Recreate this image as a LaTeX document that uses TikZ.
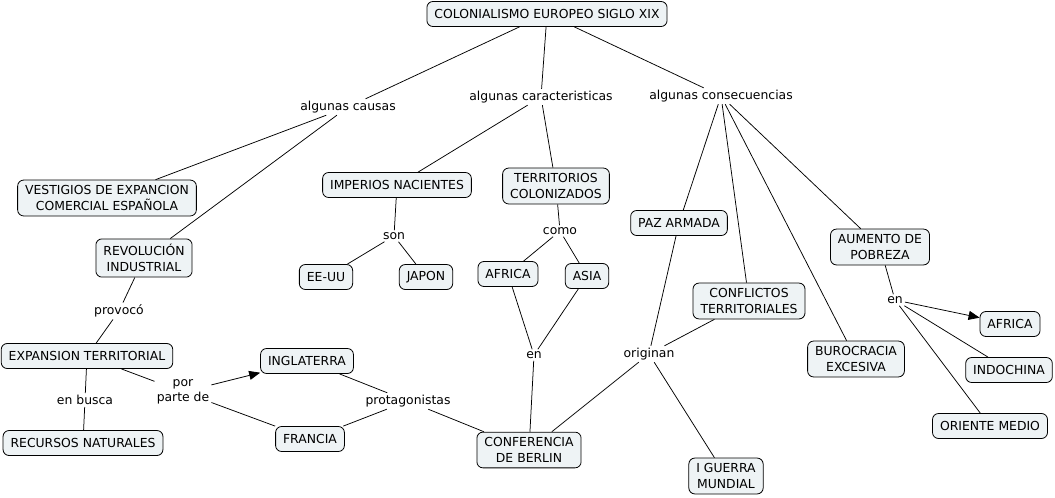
\documentclass[tikz,border=0pt]{standalone}
\usepackage{fontspec}
\setmainfont{DejaVu Sans}
\usetikzlibrary{arrows.meta}
\definecolor{boxfill}{RGB}{238,243,245}
\tikzset{
  concept/.style={draw=black, fill=boxfill, rounded corners=6pt, line width=0.8pt,
    font=\fontsize{12.4}{16.5}\selectfont, align=center, inner xsep=7.5pt, inner ysep=5pt,
    minimum height=25pt},
  link/.style={font=\fontsize{12.4}{15}\selectfont, align=center, inner sep=2pt},
  conn/.style={draw=black, line width=0.75pt},
  arr/.style={conn, -{Triangle[length=11pt,width=9pt]}}
}
\begin{document}
\begin{tikzpicture}[x=1pt,y=-1pt]
\useasboundingbox (0,0) rectangle (1055,498);
% concepts
\node[concept] (col) at (547,14) {COLONIALISMO EUROPEO SIGLO XIX};
\node[concept] (ves) at (107,198) {VESTIGIOS DE EXPANCION\\COMERCIAL ESPAÑOLA};
\node[concept] (rev) at (144,258) {REVOLUCIÓN\\ INDUSTRIAL};
\node[concept] (exp) at (87,356) {EXPANSION TERRITORIAL};
\node[concept] (rec) at (83,443) {RECURSOS NATURALES};
\node[concept] (ing) at (307,361) {INGLATERRA};
\node[concept] (fra) at (310,439) {FRANCIA};
\node[concept] (con) at (529,450) {CONFERENCIA\\DE BERLIN};
\node[concept] (imp) at (397,185) {IMPERIOS NACIENTES};
\node[concept] (eeu) at (326,277) {EE-UU};
\node[concept] (jap) at (426,277) {JAPON};
\node[concept] (ter) at (556,186) {TERRITORIOS\\COLONIZADOS};
\node[concept] (afr) at (508,274) {AFRICA};
\node[concept] (asi) at (587,276) {ASIA};
\node[concept] (paz) at (679,223) {PAZ ARMADA};
\node[concept] (cnf) at (749,301) {CONFLICTOS\\TERRITORIALES};
\node[concept] (gue) at (726,476) {I GUERRA\\ MUNDIAL};
\node[concept] (bur) at (856,359) {BUROCRACIA\\EXCESIVA};
\node[concept] (aum) at (880,247) {AUMENTO DE\\POBREZA};
\node[concept] (afr2) at (1010,324) {AFRICA};
\node[concept] (ind) at (1009,370) {INDOCHINA};
\node[concept] (ori) at (990,426) {ORIENTE MEDIO};
% linking phrases
\node[link] (lcau) at (348,107) {algunas causas};
\node[link] (lcar) at (541,97) {algunas caracteristicas};
\node[link] (lcon) at (721,96) {algunas consecuencias};
\node[link] (lpro) at (119,311) {provocó};
\node[link] (lbus) at (85,400) {en busca};
\node[link] (lpor) at (183,392) {por\\parte de};
\node[link] (lprt) at (408,401) {protagonistas};
\node[link] (lson) at (394,236) {son};
\node[link] (lcom) at (560,231) {como};
\node[link] (len) at (534,355) {en};
\node[link] (lori) at (649,354) {originan};
\node[link] (len2) at (895,300) {en};
% connectors
\draw[conn] (col) -- (lcau);
\draw[conn] (col) -- (lcar);
\draw[conn] (col) -- (lcon);
\draw[conn] (lcau) -- (ves);
\draw[conn] (lcau) -- (rev);
\draw[conn] (rev) -- (lpro);
\draw[conn] (lpro) -- (exp);
\draw[conn] (exp) -- (lbus);
\draw[conn] (lbus) -- (rec);
\draw[conn] (exp) -- (lpor);
\draw[arr] (lpor) -- (ing);
\draw[conn] (lpor) -- (fra);
\draw[conn] (ing) -- (lprt);
\draw[conn] (fra) -- (lprt);
\draw[conn] (lprt) -- (con);
\draw[conn] (lcar) -- (imp);
\draw[conn] (lcar) -- (ter);
\draw[conn] (imp) -- (lson);
\draw[conn] (lson) -- (eeu);
\draw[conn] (lson) -- (jap);
\draw[conn] (ter) -- (lcom);
\draw[conn] (lcom) -- (afr);
\draw[conn] (lcom) -- (asi);
\draw[conn] (afr) -- (len);
\draw[conn] (asi) -- (len);
\draw[conn] (len) -- (con);
\draw[conn] (lcon) -- (paz);
\draw[conn] (lcon) -- (cnf);
\draw[conn] (lcon) -- (bur);
\draw[conn] (lcon) -- (aum);
\draw[conn] (paz) -- (lori);
\draw[conn] (cnf) -- (lori);
\draw[conn] (lori) -- (con);
\draw[conn] (lori) -- (gue);
\draw[conn] (aum) -- (len2);
\draw[arr] (len2) -- (afr2);
\draw[conn] (len2) -- (ind);
\draw[conn] (len2) -- (ori);
\end{tikzpicture}
\end{document}
